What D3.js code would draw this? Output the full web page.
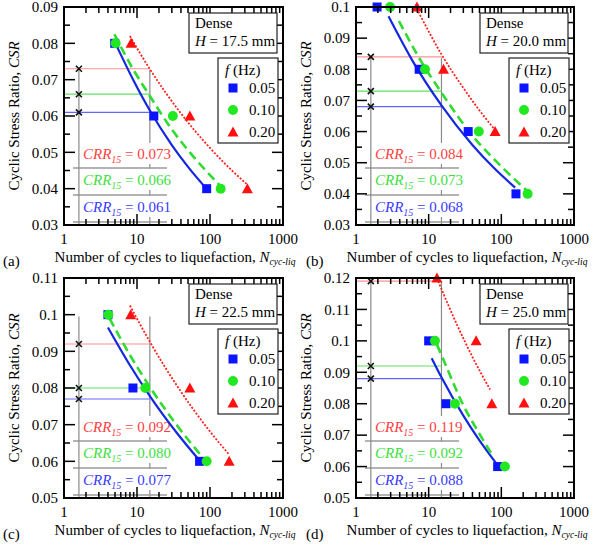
<!DOCTYPE html>
<html>
<head>
<meta charset="utf-8">
<script src="https://cdn.jsdelivr.net/npm/d3@7"></script>
<style>
  body { margin: 0; background: #fff; }
</style>
</head>
<body>
<div id="chart"></div>
<script>
// ---- data ----
const panelLetters = ["(a)", "(b)", "(c)", "(d)"];
const heightLabels = ["17.5", "20.0", "22.5", "25.0"];
const freqLabels = ["0.05", "0.10", "0.20"];

const yDomains = [[0.03, 0.09], [0.03, 0.1], [0.05, 0.11], [0.05, 0.12]];
const yTickLabels = [
  ["0.03", "0.04", "0.05", "0.06", "0.07", "0.08", "0.09"],
  ["0.03", "0.04", "0.05", "0.06", "0.07", "0.08", "0.09", "0.1"],
  ["0.05", "0.06", "0.07", "0.08", "0.09", "0.1", "0.11"],
  ["0.05", "0.06", "0.07", "0.08", "0.09", "0.1", "0.11", "0.12"]
];
const xTickLabels = ["1", "10", "100", "1000"];

// test results [N, CSR], one list per frequency (0.05, 0.10, 0.20 Hz)
const testsA = [
  [[4.95, 0.08], [17, 0.06], [90, 0.04]],
  [[5.1, 0.08], [31, 0.06], [140, 0.04]],
  [[8.3, 0.08], [53, 0.06], [325, 0.04]]
];
const testsB = [
  [[1.95, 0.1], [7.4, 0.08], [35, 0.06], [159, 0.04]],
  [[2.95, 0.1], [8.9, 0.08], [49, 0.06], [230, 0.04]],
  [[6.9, 0.1], [16, 0.08], [82, 0.06]]
];
const testsC = [
  [[4.0, 0.1], [8.8, 0.08], [72, 0.06]],
  [[4.05, 0.1], [13, 0.08], [90, 0.06]],
  [[8.2, 0.1], [53, 0.08], [183, 0.06]]
];
const testsD = [
  [[10, 0.1], [17.3, 0.08], [89, 0.06]],
  [[12.2, 0.1], [23, 0.08], [112, 0.06]],
  [[13, 0.12], [45, 0.1], [74, 0.08]]
];

// fitted curves, points
const fitsA = [
  [[5.2, 0.0795], [9, 0.0697], [15, 0.0615], [30, 0.052], [50, 0.046], [85, 0.0405]],
  [[4.9, 0.0825], [9, 0.0726], [15, 0.0655], [30, 0.0563], [60, 0.0487], [135, 0.041]],
  [[8, 0.082], [15, 0.0729], [40, 0.0607], [100, 0.0512], [200, 0.045], [330, 0.041]]
];
const fitsB = [
  [[2.8, 0.097], [6, 0.0827], [15, 0.0684], [40, 0.0557], [80, 0.0482], [155, 0.042]],
  [[3.9, 0.0955], [8, 0.0823], [15, 0.0725], [40, 0.0587], [100, 0.0488], [218, 0.0413]],
  [[7.2, 0.0985], [15, 0.0848], [30, 0.074], [50, 0.0668], [82, 0.0605]]
];
const fitsC = [
  [[4, 0.0965], [8, 0.0862], [15, 0.0778], [35, 0.0678], [70, 0.0605]],
  [[4.2, 0.099], [8, 0.089], [15, 0.0803], [35, 0.0699], [80, 0.061]],
  [[8, 0.1025], [15, 0.0926], [40, 0.079], [90, 0.0693], [180, 0.062]]
];
const fitsD = [
  [[11, 0.0945], [15, 0.0884], [30, 0.0762], [50, 0.0683], [85, 0.061]],
  [[13, 0.0988], [15, 0.0955], [30, 0.0795], [50, 0.0704], [76, 0.0635]],
  [[13.5, 0.119], [25, 0.1047], [40, 0.0949], [70, 0.0845]]
];

// CRR15 per frequency (0.05, 0.10, 0.20 Hz)
const crrA = [0.061, 0.066, 0.073];
const crrB = [0.068, 0.073, 0.084];
const crrC = [0.077, 0.080, 0.092];
const crrD = [0.088, 0.092, 0.119];
const guideTop = [0.0727, 0.0837, 0.0995, 0.119];
const nCrr = 15, nMarker = 1.6;

const allTests = [testsA, testsB, testsC, testsD];
const allFits = [fitsA, fitsB, fitsC, fitsD];
const allCrr = [crrA, crrB, crrC, crrD];

// ---- layout / style ----
const width = 612, height = 549;
const boxes = [
  { x0: 64, x1: 283, y0: 7, y1: 225, lx: 3 },
  { x0: 356, x1: 574, y0: 7, y1: 225, lx: 306 },
  { x0: 64, x1: 283, y0: 278, y1: 498, lx: 3 },
  { x0: 356, x1: 574, y0: 278, y1: 498, lx: 306 }
];
const markColor = ["#0a14ff", "#22e822", "#ff1010"];
const fitColor = ["#1428e0", "#2fdc2f", "#ff2020"];
const crrText = ["#3a3aff", "#3de03d", "#ff4040"];
const crrLine = ["#6464ff", "#60e060", "#ff9090"];
const fitDash = [null, "9,5", "2,1.6"];
const fitWidth = [2.2, 2.6, 1.8];
const fs = 15;
const serif = "'Liberation Serif', 'Times New Roman', Times, 'DejaVu Serif', serif";

const svg = d3.select("#chart").append("svg")
  .attr("width", width)
  .attr("height", height)
  .attr("font-family", serif)
  .style("font-family", serif);

function drawMarker(g, k, x, y) {
  if (k == 0) {
    g.append("rect").attr("x", x - 4.5).attr("y", y - 4.5).attr("width", 9).attr("height", 9)
      .attr("fill", markColor[0]);
  } else if (k == 1) {
    g.append("circle").attr("cx", x).attr("cy", y).attr("r", 5).attr("fill", markColor[1]);
  } else {
    g.append("path").attr("d", `M${x},${y - 5.5}L${x + 5.5},${y + 4.5}L${x - 5.5},${y + 4.5}Z`)
      .attr("fill", markColor[2]);
  }
}

boxes.forEach(function(b, p) {
  const g = svg.append("g");
  const x = d3.scaleLog().domain([1, 1000]).range([b.x0, b.x1]);
  const y = d3.scaleLinear().domain(yDomains[p]).range([b.y1, b.y0]);
  const crr = allCrr[p];

  // guide lines
  g.append("line")
    .attr("x1", x(nCrr)).attr("x2", x(nCrr))
    .attr("y1", y(guideTop[p])).attr("y2", b.y1)
    .attr("stroke", "#8a8a8a").attr("stroke-width", 1.2);

  crr.forEach(function(c, k) {
    g.append("line")
      .attr("x1", x(1)).attr("x2", x(nCrr))
      .attr("y1", y(c)).attr("y2", y(c))
      .attr("stroke", crrLine[k]).attr("stroke-width", 1.2);
  });

  // CRR text rows (top: 0.20 Hz, bottom: 0.05 Hz)
  const rowBase = [b.y1 - 13, b.y1 - 40, b.y1 - 66];
  const sepY = [b.y1 - 3, b.y1 - 30, b.y1 - 57];
  crr.forEach(function(c, k) {
    const t = g.append("text")
      .attr("x", b.x0 + 19).attr("y", rowBase[k])
      .attr("font-size", fs).attr("fill", crrText[k]);
    t.append("tspan").attr("font-style", "italic").text("CRR");
    t.append("tspan").attr("font-style", "italic").attr("font-size", 10).attr("dy", 4).text("15");
    t.append("tspan").attr("dy", -4).text(" = " + c.toFixed(3));
    const bb = t.node().getBBox();
    g.insert("rect", "text")
      .attr("x", bb.x - 1).attr("y", rowBase[k] - 16)
      .attr("width", bb.width + 2).attr("height", 21)
      .attr("fill", "#fff");
  });
  sepY.forEach(function(s) {
    g.append("line")
      .attr("x1", b.x0 + 9).attr("x2", b.x0 + 103)
      .attr("y1", s).attr("y2", s)
      .attr("stroke", "#9a9a9a").attr("stroke-width", 1.3);
  });

  g.append("line")
    .attr("x1", x(nMarker)).attr("x2", x(nMarker))
    .attr("y1", y(guideTop[p])).attr("y2", b.y1)
    .attr("stroke", "#8a8a8a").attr("stroke-width", 1.2);

  crr.forEach(function(c) {
    const cx = x(nMarker), cy = y(c);
    g.append("path")
      .attr("d", `M${cx - 3},${cy - 3}L${cx + 3},${cy + 3}M${cx - 3},${cy + 3}L${cx + 3},${cy - 3}`)
      .attr("stroke", "#111").attr("stroke-width", 1.6);
  });

  // fitted lines
  const line = d3.line()
    .x(function(d) { return x(d[0]); })
    .y(function(d) { return y(d[1]); })
    .curve(d3.curveMonotoneX);
  allFits[p].forEach(function(f, k) {
    g.append("path").datum(f)
      .attr("d", line)
      .attr("fill", "none")
      .attr("stroke", fitColor[k])
      .attr("stroke-width", fitWidth[k])
      .attr("stroke-dasharray", fitDash[k]);
  });

  // test points
  allTests[p].forEach(function(s, k) {
    s.forEach(function(d) { drawMarker(g, k, x(d[0]), y(d[1])); });
  });

  // axes: inside ticks on all four sides
  const yMajor = yTickLabels[p].map(Number);
  const yMinor = d3.range(yDomains[p][0], yDomains[p][1] + 1e-9, 0.005)
    .filter(function(v) { return !yMajor.some(function(m) { return Math.abs(m - v) < 1e-6; }); });
  const xMajor = xTickLabels.map(Number);
  const xMinor = [];
  [1, 10, 100].forEach(function(dec) {
    for (let i = 2; i <= 9; i++) xMinor.push(dec * i);
  });

  const tk = g.append("g").attr("stroke", "#000").attr("stroke-width", 1.5);
  yMajor.forEach(function(v) {
    tk.append("line").attr("x1", b.x0).attr("x2", b.x0 + 11).attr("y1", y(v)).attr("y2", y(v));
    tk.append("line").attr("x1", b.x1).attr("x2", b.x1 - 11).attr("y1", y(v)).attr("y2", y(v));
  });
  yMinor.forEach(function(v) {
    tk.append("line").attr("x1", b.x0).attr("x2", b.x0 + 6).attr("y1", y(v)).attr("y2", y(v));
    tk.append("line").attr("x1", b.x1).attr("x2", b.x1 - 6).attr("y1", y(v)).attr("y2", y(v));
  });
  xMajor.forEach(function(v) {
    tk.append("line").attr("x1", x(v)).attr("x2", x(v)).attr("y1", b.y1).attr("y2", b.y1 - 11);
    tk.append("line").attr("x1", x(v)).attr("x2", x(v)).attr("y1", b.y0).attr("y2", b.y0 + 11);
  });
  xMinor.forEach(function(v) {
    tk.append("line").attr("x1", x(v)).attr("x2", x(v)).attr("y1", b.y1).attr("y2", b.y1 - 6);
    tk.append("line").attr("x1", x(v)).attr("x2", x(v)).attr("y1", b.y0).attr("y2", b.y0 + 6);
  });

  g.append("rect")
    .attr("x", b.x0).attr("y", b.y0)
    .attr("width", b.x1 - b.x0).attr("height", b.y1 - b.y0)
    .attr("fill", "none").attr("stroke", "#000").attr("stroke-width", 2);

  // tick labels
  yTickLabels[p].forEach(function(lab) {
    g.append("text").attr("x", b.x0 - 6).attr("y", y(+lab)).attr("dy", "0.35em")
      .attr("text-anchor", "end").attr("font-size", fs).text(lab);
  });
  xTickLabels.forEach(function(lab) {
    g.append("text").attr("x", x(+lab)).attr("y", b.y1 + 19)
      .attr("text-anchor", "middle").attr("font-size", fs).text(lab);
  });

  // axis titles
  const yt = g.append("text")
    .attr("transform", `translate(${b.x0 - 45},${(b.y0 + b.y1) / 2}) rotate(-90)`)
    .attr("text-anchor", "middle").attr("font-size", fs);
  yt.append("tspan").text("Cyclic Stress Ratio, ");
  yt.append("tspan").attr("font-style", "italic").text("CSR");

  const xt = g.append("text")
    .attr("x", b.x0 + 111).attr("y", b.y1 + 37)
    .attr("text-anchor", "middle").attr("font-size", fs);
  xt.append("tspan").text("Number of cycles to liquefaction, ");
  xt.append("tspan").attr("font-style", "italic").text("N");
  xt.append("tspan").attr("font-style", "italic").attr("font-size", 9.5).attr("dy", 3).text("cyc-liq");

  g.append("text").attr("x", b.lx).attr("y", b.y1 + 41)
    .attr("font-size", fs).text(panelLetters[p]);

  // "Dense / H" box
  const dx = b.x1 - 94, dy = b.y0 + 6;
  g.append("rect").attr("x", dx).attr("y", dy).attr("width", 88).attr("height", 40)
    .attr("fill", "#fff").attr("stroke", "#222").attr("stroke-width", 1.2);
  g.append("text").attr("x", dx + 6).attr("y", dy + 15).attr("font-size", fs).text("Dense");
  const ht = g.append("text").attr("x", dx + 6).attr("y", dy + 33).attr("font-size", fs);
  ht.append("tspan").attr("font-style", "italic").text("H");
  ht.append("tspan").text(" = " + heightLabels[p] + " mm");

  // frequency legend
  const lx = b.x1 - 65, ly = b.y0 + 51;
  g.append("rect").attr("x", lx).attr("y", ly).attr("width", 60).attr("height", 85)
    .attr("fill", "#fff").attr("stroke", "#222").attr("stroke-width", 1.2);
  const ft = g.append("text").attr("x", lx + 7).attr("y", ly + 17).attr("font-size", fs);
  ft.append("tspan").attr("font-style", "italic").text("f");
  ft.append("tspan").text(" (Hz)");
  freqLabels.forEach(function(lab, k) {
    const ry = ly + 30 + k * 22;
    drawMarker(g, k, lx + 15, ry);
    g.append("text").attr("x", lx + 31).attr("y", ry).attr("dy", "0.35em")
      .attr("font-size", fs).text(lab);
  });
});
</script>
</body>
</html>
